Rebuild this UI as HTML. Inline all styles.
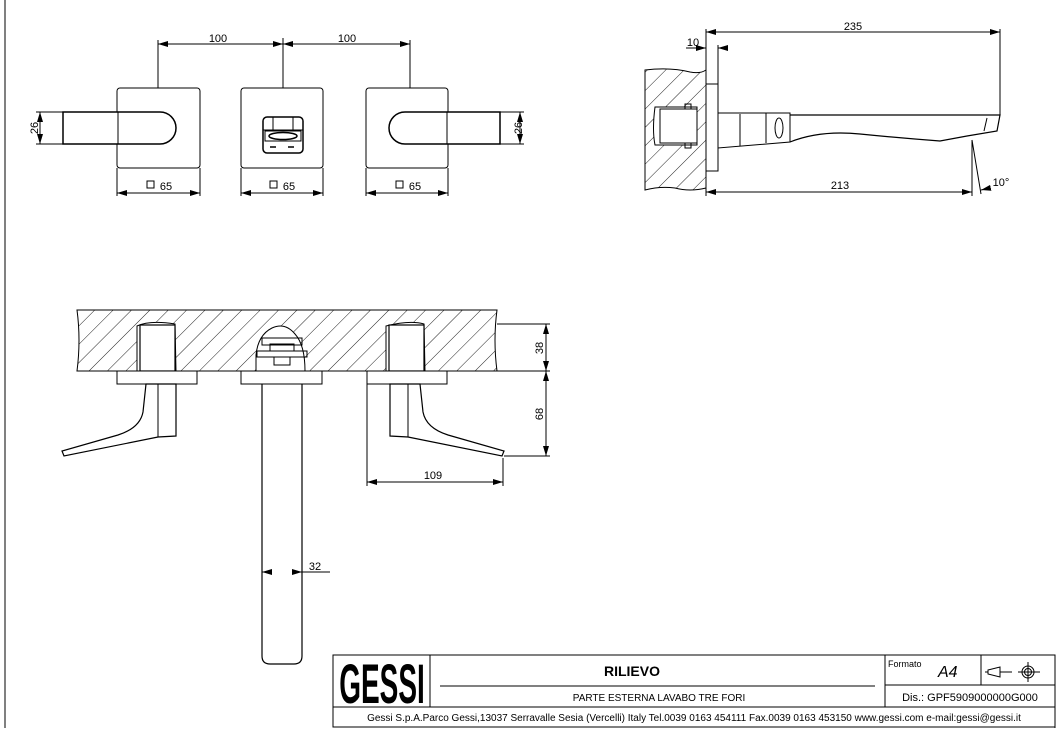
<!DOCTYPE html>
<html><head><meta charset="utf-8"><style>
html,body{margin:0;padding:0;background:#fff;}
svg{display:block;font-family:"Liberation Sans",sans-serif;}
</style></head><body>
<svg width="1060" height="730" viewBox="0 0 1060 730" xmlns="http://www.w3.org/2000/svg">
<defs>
<pattern id="h" patternUnits="userSpaceOnUse" width="13" height="13" patternTransform="rotate(45)">
<line x1="0" y1="0" x2="0" y2="13" stroke="#222" stroke-width="1"/>
</pattern>
<marker id="a" viewBox="0 0 10 6" refX="10" refY="3" markerWidth="10" markerHeight="6" orient="auto-start-reverse" markerUnits="userSpaceOnUse"><path d="M0,0 L10,3 L0,6 z" fill="#000"/></marker>
</defs>
<g fill="none" stroke="#000" stroke-width="1">
<line x1="5" y1="0" x2="5" y2="728"/>
<line x1="1055" y1="655" x2="1055" y2="728"/>

<!-- TOP VIEWS -->
<rect x="117" y="88" width="83" height="80" rx="3"/>
<rect x="241" y="88" width="82" height="80" rx="3"/>
<rect x="366" y="88" width="82" height="80" rx="3"/>
<line x1="158" y1="40" x2="158" y2="88"/><line x1="283" y1="38" x2="283" y2="88"/><line x1="410" y1="40" x2="410" y2="88"/>
<line x1="158" y1="44" x2="283" y2="44" marker-start="url(#a)" marker-end="url(#a)"/>
<line x1="283" y1="44" x2="410" y2="44" marker-start="url(#a)" marker-end="url(#a)"/>
<path d="M63,112 L160,112 A16,16 0 0 1 160,144 L63,144 Z" fill="#fff" stroke-width="1.5"/>
<line x1="118" y1="112" x2="118" y2="144"/>
<line x1="36" y1="112" x2="63" y2="112"/><line x1="36" y1="144" x2="63" y2="144"/>
<line x1="40" y1="112" x2="40" y2="144" marker-start="url(#a)" marker-end="url(#a)"/>
<path d="M500,112 L405,112 A16,16 0 0 0 405,144 L500,144 Z" fill="#fff" stroke-width="1.5"/>
<line x1="447" y1="112" x2="447" y2="144"/>
<line x1="500" y1="112" x2="524" y2="112"/><line x1="500" y1="144" x2="524" y2="144"/>
<line x1="520" y1="112" x2="520" y2="144" marker-start="url(#a)" marker-end="url(#a)"/>
<rect x="263" y="117" width="40" height="36" rx="4" stroke-width="1.5"/>
<line x1="263" y1="130" x2="303" y2="130"/><line x1="273" y1="117" x2="273" y2="130"/><line x1="293" y1="117" x2="293" y2="130"/>
<rect x="265" y="131" width="36" height="10"/>
<ellipse cx="283" cy="136" rx="14" ry="3.5" stroke-width="1.5"/>
<line x1="270" y1="147" x2="276" y2="147" stroke-width="1.5"/><line x1="288" y1="147" x2="294" y2="147" stroke-width="1.5"/>
<line x1="117" y1="168" x2="117" y2="196"/><line x1="200" y1="168" x2="200" y2="196"/>
<line x1="241" y1="168" x2="241" y2="196"/><line x1="323" y1="168" x2="323" y2="196"/>
<line x1="366" y1="168" x2="366" y2="196"/><line x1="448" y1="168" x2="448" y2="196"/>
<line x1="117" y1="193" x2="200" y2="193" marker-start="url(#a)" marker-end="url(#a)"/>
<line x1="241" y1="193" x2="323" y2="193" marker-start="url(#a)" marker-end="url(#a)"/>
<line x1="366" y1="193" x2="448" y2="193" marker-start="url(#a)" marker-end="url(#a)"/>
<rect x="147" y="181" width="7" height="7"/><rect x="270" y="181" width="7" height="7"/><rect x="396" y="181" width="7" height="7"/>

<!-- SIDE VIEW -->
<path d="M645,70 Q670,67 690,72 Q700,74 706,70 L706,188 Q690,192 675,188 Q660,186 645,190 Z" fill="url(#h)"/>
<path d="M655,107 L697,107 L697,145 L655,145 Q652,130 655,107 Z" fill="#fff"/>
<rect x="660" y="109" width="37" height="34" fill="#fff"/>
<rect x="685" y="104" width="6" height="5"/><rect x="685" y="143" width="6" height="5"/>
<rect x="706" y="84" width="12" height="87" fill="#fff"/>
<line x1="706" y1="84" x2="706" y2="171"/>
<path d="M718,113 L790,113 L790,142 L718,148 Z" fill="#fff"/>
<line x1="740" y1="114" x2="740" y2="146"/><line x1="766" y1="113" x2="766" y2="143"/>
<ellipse cx="779" cy="128" rx="4" ry="10"/>
<path d="M790,115 L1000,115 L997,131 L967,136 L940,141 Q900,138 860,134 Q820,130 790,142" stroke-width="1.2"/>
<line x1="987" y1="118" x2="984" y2="131"/>
<line x1="706" y1="29" x2="706" y2="196"/><line x1="1000" y1="29" x2="1000" y2="115"/>
<line x1="706" y1="32" x2="1000" y2="32" marker-start="url(#a)" marker-end="url(#a)"/>
<line x1="718" y1="45" x2="718" y2="84"/>
<line x1="686" y1="48" x2="706" y2="48" marker-end="url(#a)"/><line x1="728" y1="48" x2="718" y2="48" marker-end="url(#a)"/>
<line x1="972" y1="140" x2="972" y2="196"/>
<line x1="706" y1="192" x2="972" y2="192" marker-start="url(#a)" marker-end="url(#a)"/>
<line x1="972" y1="140" x2="981" y2="194"/>
<line x1="990" y1="188" x2="981" y2="190" marker-end="url(#a)"/>

<!-- FRONT VIEW -->
<path d="M77,310 L497,310 Q493,340 497,371 L77,371 Q81,340 77,310 Z" fill="url(#h)"/>
<path d="M137,326 Q150,320 175,324 L176,371 L137,371 Z" fill="#fff"/>
<rect x="140" y="325" width="35" height="46" fill="#fff" stroke-width="1.2"/>
<path d="M386,326 Q410,320 424,324 L425,371 L386,371 Z" fill="#fff"/>
<rect x="389" y="325" width="35" height="46" fill="#fff" stroke-width="1.2"/>
<path d="M256,355 Q258,335 272,328 Q285,322 295,334 Q305,345 305,371 L256,371 Z" fill="#fff"/>
<rect x="262" y="338" width="40" height="7"/>
<rect x="257" y="351" width="50" height="6"/>
<rect x="270" y="344" width="24" height="7"/>
<rect x="274" y="357" width="16" height="8"/>
<rect x="117" y="371" width="80" height="13" fill="#fff"/>
<rect x="241" y="371" width="81" height="13" fill="#fff"/>
<rect x="367" y="371" width="80" height="13" fill="#fff"/>
<path d="M146,384 L176,384 L176,436 L158,437 L64,456 L62,451 L118,435 Q140,428 143,412 Z" fill="#fff" stroke-width="1.2"/>
<line x1="158" y1="384" x2="158" y2="437"/>
<path d="M420,384 L390,384 L390,436 L408,437 L502,456 L504,451 L448,435 Q426,428 423,412 Z" fill="#fff" stroke-width="1.2"/>
<line x1="408" y1="384" x2="408" y2="437"/>
<path d="M262,384 L262,656 Q262,664 270,664 L294,664 Q302,664 302,656 L302,384" stroke-width="1.2"/>
<line x1="302" y1="572" x2="330" y2="572"/>
<line x1="270" y1="572" x2="262" y2="572" marker-end="url(#a)"/><line x1="294" y1="572" x2="302" y2="572" marker-end="url(#a)"/>
<line x1="497" y1="324" x2="550" y2="324"/><line x1="497" y1="371" x2="550" y2="371"/><line x1="504" y1="456" x2="550" y2="456"/>
<line x1="546" y1="324" x2="546" y2="371" marker-start="url(#a)" marker-end="url(#a)"/>
<line x1="546" y1="371" x2="546" y2="456" marker-start="url(#a)" marker-end="url(#a)"/>
<line x1="367" y1="384" x2="367" y2="486"/><line x1="503" y1="458" x2="503" y2="486"/>
<line x1="367" y1="482" x2="503" y2="482" marker-start="url(#a)" marker-end="url(#a)"/>

<!-- TITLE BLOCK -->
<rect x="333" y="655" width="722" height="72" fill="#fff"/>
<line x1="333" y1="707" x2="1055" y2="707"/>
<line x1="430" y1="655" x2="430" y2="707"/>
<line x1="885" y1="655" x2="885" y2="707"/>
<line x1="981" y1="655" x2="981" y2="685"/>
<line x1="885" y1="685" x2="1055" y2="685"/>
<line x1="440" y1="686" x2="875" y2="686"/>
<path d="M988,670 L1000,667 L1000,677 L988,674 Z M1000,672 L1012,672 M985,672 L988,672"/>
<circle cx="1028" cy="672" r="6"/><circle cx="1028" cy="672" r="3.5"/>
<line x1="1018" y1="672" x2="1040" y2="672"/><line x1="1028" y1="662" x2="1028" y2="682"/>
</g>
<g font-size="11" fill="#000" text-anchor="middle">
<text x="218" y="42">100</text><text x="347" y="42">100</text>
<text x="38" y="128" transform="rotate(-90 38 128)">26</text>
<text x="522" y="128" transform="rotate(-90 522 128)">26</text>
<text x="166" y="190">65</text><text x="289" y="190">65</text><text x="415" y="190">65</text>
<text x="853" y="30">235</text><text x="693" y="46">10</text><text x="840" y="189">213</text>
<text x="1001" y="186">10°</text>
<text x="543" y="348" transform="rotate(-90 543 348)">38</text>
<text x="543" y="414" transform="rotate(-90 543 414)">68</text>
<text x="433" y="479">109</text><text x="315" y="570">32</text>
<text x="632" y="676" font-size="14" font-weight="bold">RILIEVO</text>
<text x="659" y="701" font-size="10">PARTE ESTERNA LAVABO TRE FORI</text>
<text x="694" y="721" font-size="10">Gessi S.p.A.Parco Gessi,13037 Serravalle Sesia (Vercelli) Italy Tel.0039 0163 454111 Fax.0039 0163 453150 www.gessi.com e-mail:gessi@gessi.it</text>
<text x="970" y="701" font-size="11">Dis.: GPF5909000000G000</text>
</g>
<text x="888" y="667" font-size="9" font-family="Liberation Sans,sans-serif">Formato</text>
<text x="938" y="677" font-size="16" font-style="italic" font-family="Liberation Sans,sans-serif">A4</text>
<text x="0" y="0" font-size="56" font-weight="bold" text-anchor="middle" font-family="Liberation Sans Narrow,Liberation Sans,sans-serif" transform="translate(382 703) scale(0.5 1)">GESSI</text>
</svg>
</body></html>
